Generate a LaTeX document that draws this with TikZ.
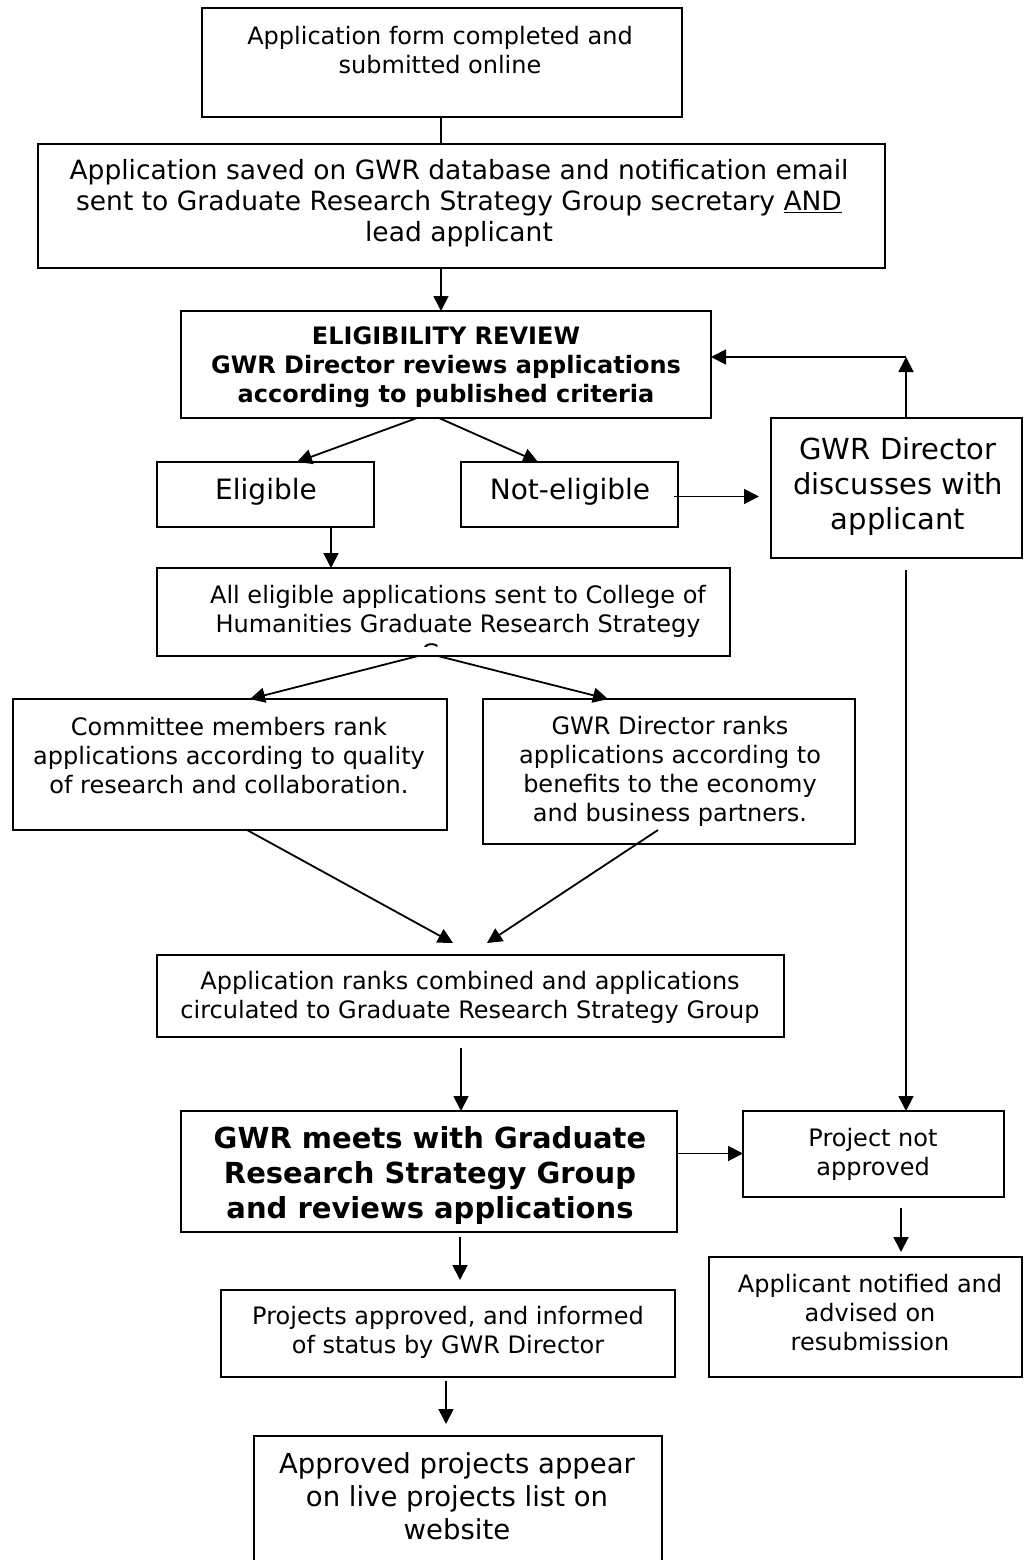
\documentclass[tikz,border=0pt]{standalone}
\usepackage{fontspec}
\setmainfont{DejaVu Sans}
\usetikzlibrary{arrows.meta}
\newcommand{\fsmall}{\fontsize{24}{29}\selectfont}
\newcommand{\fmid}{\fontsize{26.5}{31}\selectfont}
\newcommand{\fbig}{\fontsize{28}{34}\selectfont}
\newcommand{\fdis}{\fontsize{29}{35}\selectfont}
\newcommand{\ffin}{\fontsize{27.5}{33}\selectfont}
\newcommand{\fbold}{\fontsize{24}{29}\selectfont\bfseries}
\newcommand{\fboldbig}{\fontsize{29}{35}\selectfont\bfseries}
\begin{document}
\begin{tikzpicture}[x=1pt,y=-1pt,
  box/.style={draw, line width=1.9pt, anchor=north west, inner sep=0pt, outer sep=0pt},
  txt/.style={align=center, inner sep=0pt},
  conn/.style={line width=1.8pt},
  arr/.style={line width=1.8pt, -{Triangle[length=15pt,width=15pt]}}]
\useasboundingbox (0,0) rectangle (1027,1560);
\clip (0,0) rectangle (1027,1560);
% boxes
\node[box, minimum width=480pt, minimum height=109pt] (b1) at (202,8) {};
\node[box, minimum width=847pt, minimum height=124pt] (b2) at (38,144) {};
\node[box, minimum width=530pt, minimum height=107pt] (b3) at (181,311) {};
\node[box, minimum width=217pt, minimum height=65pt] (elg) at (157,462) {};
\node[box, minimum width=217pt, minimum height=65pt] (nel) at (461,462) {};
\node[box, minimum width=251pt, minimum height=140pt] (dis) at (771,418) {};
\node[box, minimum width=573pt, minimum height=88pt] (alle) at (157,568) {};
\node[box, minimum width=434pt, minimum height=131pt] (com) at (13,699) {};
\node[box, minimum width=372pt, minimum height=145pt] (rank) at (483,699) {};
\node[box, minimum width=627pt, minimum height=82pt] (comb) at (157,955) {};
\node[box, minimum width=496pt, minimum height=121pt] (meet) at (181,1111) {};
\node[box, minimum width=261pt, minimum height=86pt] (pna) at (743,1111) {};
\node[box, minimum width=454pt, minimum height=87pt] (pap) at (221,1290) {};
\node[box, minimum width=313pt, minimum height=120pt] (app) at (709,1257) {};
\node[box, minimum width=408pt, minimum height=170pt] (fin) at (254,1436) {};
% texts
\node[txt, font=\fsmall] (b1t) at (440,50) {Application form completed and\\submitted online};
\node[txt, font=\fmid] (b2t) at (459,203) {Application saved on GWR database and notification email\\sent to Graduate Research Strategy Group secretary \underline{AND}\\lead applicant};
\node[txt, font=\fbold] (b3t) at (446,367) {ELIGIBILITY REVIEW\\GWR Director reviews applications\\according to published criteria};
\node[txt, font=\fbig] (elgt) at (266,492) {Eligible};
\node[txt, font=\fbig] (nelt) at (570,492) {Not-eligible};
\node[txt, font=\fdis] (dist) at (898,486) {GWR Director\\discusses with\\applicant};
\begin{scope}
\clip (157,568) rectangle (730,646.5);
\node[txt, font=\fsmall] (allet) at (458,626) {All eligible applications sent to College of\\Humanities Graduate Research Strategy\\Group};
\end{scope}
\node[txt, font=\fsmall] (comt) at (229,756) {Committee members rank\\applications according to quality\\of research and collaboration.};
\node[txt, font=\fsmall] (rankt) at (670,771) {GWR Director ranks\\applications according to\\benefits to the economy\\and business partners.};
\node[txt, font=\fsmall] (combt) at (470,997) {Application ranks combined and applications\\circulated to Graduate Research Strategy Group};
\node[txt, font=\fboldbig] (meett) at (430,1175) {GWR meets with Graduate\\Research Strategy Group\\and reviews applications};
\node[txt, font=\fsmall] (pnat) at (873,1154) {Project not\\approved};
\node[txt, font=\fsmall] (papt) at (448,1332) {Projects approved, and informed\\of status by GWR Director};
\node[txt, font=\fsmall] (appt) at (870,1313) {Applicant notified and\\advised on\\resubmission};
\node[txt, font=\ffin] (fint) at (457,1496) {Approved projects appear\\on live projects list on\\website};
% connectors
\coordinate (fb) at (906,357);
\draw[conn] ([xshift=239pt]b1.south west) -- ([xshift=403pt]b2.north west);
\draw[arr] ([xshift=403pt]b2.south west) -- ([xshift=260pt]b3.north west);
\draw[arr] ([xshift=236pt]b3.south west) -- ([xshift=140pt]elg.north west);
\draw[arr] ([xshift=258pt]b3.south west) -- ([xshift=77pt]nel.north west);
\draw[arr, shorten >=12pt] ([xshift=-4pt,yshift=-2pt]nel.east) -- ([yshift=-2pt]nel.east -| dis.west);
\draw[arr] ([xshift=135pt]dis.north west) -- (fb);
\draw[arr] (fb) -- (fb -| b3.east);
\draw[arr] ([xshift=174pt]elg.south west) -- ([xshift=174pt]elg.south west |- alle.north);
\draw[arr] ([xshift=261pt]alle.south west) -- ([xshift=237pt]com.north west);
\draw[arr] ([xshift=281pt]alle.south west) -- ([xshift=125pt]rank.north west);
\draw[arr] ([xshift=234pt]com.south west) -- ([xshift=296pt,yshift=12pt]comb.north west);
\draw[arr] ([xshift=175pt,yshift=14pt]rank.south west) -- ([xshift=330pt,yshift=12pt]comb.north west);
\draw[arr] ([xshift=304pt,yshift=-11pt]comb.south west) -- ([xshift=280pt]meet.north west);
\draw[arr] ([xshift=135pt,yshift=-12pt]dis.south west) -- ([xshift=163pt]pna.north west);
\draw[arr] ([yshift=18pt]meet.east) -- ([yshift=18pt]meet.east -| pna.west);
\draw[arr] ([xshift=279pt,yshift=-5pt]meet.south west) -- ([xshift=239pt,yshift=10pt]pap.north west);
\draw[arr] ([xshift=158pt,yshift=-11pt]pna.south west) -- ([xshift=192pt,yshift=5pt]app.north west);
\draw[arr] ([xshift=225pt,yshift=-4pt]pap.south west) -- ([xshift=192pt,yshift=12pt]fin.north west);
\end{tikzpicture}
\end{document}
